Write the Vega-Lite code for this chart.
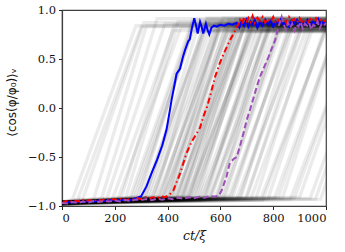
{
  "$schema": "https://vega.github.io/schema/vega-lite/v6.json",
  "width": 264,
  "height": 196,
  "autosize": "none",
  "padding": {"left": 62, "top": 10, "right": 19, "bottom": 46},
  "background": "white",
  "config": {
    "font": "DejaVu Serif",
    "view": {"stroke": "#404040", "strokeWidth": 1.2},
    "axis": {
      "grid": false,
      "domainColor": "#404040",
      "domainWidth": 1.2,
      "tickColor": "#222",
      "tickSize": 3.5,
      "tickWidth": 1,
      "labelFont": "DejaVu Serif",
      "labelFontSize": 11.5,
      "labelColor": "#111",
      "titleFont": "DejaVu Serif",
      "titleFontSize": 12.5,
      "titleFontWeight": "normal",
      "titleColor": "#111"
    }
  },
  "datasets": {
    "gray": [
      {"id":0,"t":0,"v":-0.96},{"id":0,"t":40,"v":-0.93},{"id":0,"t":280,"v":0.84},{"id":0,"t":1000,"v":0.84},
      {"id":1,"t":0,"v":-0.97},{"id":1,"t":80,"v":-0.92},{"id":1,"t":310,"v":0.87},{"id":1,"t":1000,"v":0.87},
      {"id":2,"t":0,"v":-0.96},{"id":2,"t":120,"v":-0.93},{"id":2,"t":320,"v":0.84},{"id":2,"t":1000,"v":0.84},
      {"id":3,"t":0,"v":-0.97},{"id":3,"t":170,"v":-0.92},{"id":3,"t":390,"v":0.86},{"id":3,"t":1000,"v":0.86},
      {"id":4,"t":0,"v":-0.96},{"id":4,"t":210,"v":-0.94},{"id":4,"t":450,"v":0.82},{"id":4,"t":1000,"v":0.82},
      {"id":5,"t":0,"v":-0.97},{"id":5,"t":240,"v":-0.93},{"id":5,"t":440,"v":0.88},{"id":5,"t":1000,"v":0.88},
      {"id":6,"t":0,"v":-0.98},{"id":6,"t":265,"v":-0.92},{"id":6,"t":495,"v":0.85},{"id":6,"t":1000,"v":0.85},
      {"id":7,"t":0,"v":-0.96},{"id":7,"t":285,"v":-0.91},{"id":7,"t":495,"v":0.80},{"id":7,"t":1000,"v":0.80},
      {"id":8,"t":0,"v":-0.97},{"id":8,"t":300,"v":-0.93},{"id":8,"t":550,"v":0.87},{"id":8,"t":1000,"v":0.87},
      {"id":9,"t":0,"v":-0.97},{"id":9,"t":315,"v":-0.92},{"id":9,"t":515,"v":0.83},{"id":9,"t":1000,"v":0.83},
      {"id":10,"t":0,"v":-0.96},{"id":10,"t":330,"v":-0.93},{"id":10,"t":560,"v":0.89},{"id":10,"t":1000,"v":0.89},
      {"id":11,"t":0,"v":-0.98},{"id":11,"t":345,"v":-0.91},{"id":11,"t":565,"v":0.84},{"id":11,"t":1000,"v":0.84},
      {"id":12,"t":0,"v":-0.97},{"id":12,"t":360,"v":-0.92},{"id":12,"t":600,"v":0.81},{"id":12,"t":1000,"v":0.81},
      {"id":13,"t":0,"v":-0.96},{"id":13,"t":370,"v":-0.94},{"id":13,"t":580,"v":0.86},{"id":13,"t":1000,"v":0.86},
      {"id":14,"t":0,"v":-0.97},{"id":14,"t":382,"v":-0.92},{"id":14,"t":632,"v":0.90},{"id":14,"t":1000,"v":0.90},
      {"id":15,"t":0,"v":-0.98},{"id":15,"t":395,"v":-0.93},{"id":15,"t":595,"v":0.83},{"id":15,"t":1000,"v":0.83},
      {"id":16,"t":0,"v":-0.96},{"id":16,"t":405,"v":-0.91},{"id":16,"t":635,"v":0.85},{"id":16,"t":1000,"v":0.85},
      {"id":17,"t":0,"v":-0.97},{"id":17,"t":415,"v":-0.92},{"id":17,"t":635,"v":0.87},{"id":17,"t":1000,"v":0.87},
      {"id":18,"t":0,"v":-0.97},{"id":18,"t":425,"v":-0.93},{"id":18,"t":685,"v":0.80},{"id":18,"t":1000,"v":0.80},
      {"id":19,"t":0,"v":-0.96},{"id":19,"t":435,"v":-0.92},{"id":19,"t":645,"v":0.84},{"id":19,"t":1000,"v":0.84},
      {"id":20,"t":0,"v":-0.98},{"id":20,"t":445,"v":-0.94},{"id":20,"t":685,"v":0.88},{"id":20,"t":1000,"v":0.88},
      {"id":21,"t":0,"v":-0.97},{"id":21,"t":455,"v":-0.91},{"id":21,"t":655,"v":0.82},{"id":21,"t":1000,"v":0.82},
      {"id":22,"t":0,"v":-0.96},{"id":22,"t":465,"v":-0.92},{"id":22,"t":695,"v":0.86},{"id":22,"t":1000,"v":0.86},
      {"id":23,"t":0,"v":-0.97},{"id":23,"t":475,"v":-0.93},{"id":23,"t":725,"v":0.84},{"id":23,"t":1000,"v":0.84},
      {"id":24,"t":0,"v":-0.97},{"id":24,"t":485,"v":-0.92},{"id":24,"t":695,"v":0.89},{"id":24,"t":1000,"v":0.89},
      {"id":25,"t":0,"v":-0.96},{"id":25,"t":495,"v":-0.91},{"id":25,"t":735,"v":0.81},{"id":25,"t":1000,"v":0.81},
      {"id":26,"t":0,"v":-0.98},{"id":26,"t":505,"v":-0.93},{"id":26,"t":725,"v":0.85},{"id":26,"t":1000,"v":0.85},
      {"id":27,"t":0,"v":-0.97},{"id":27,"t":515,"v":-0.92},{"id":27,"t":715,"v":0.87},{"id":27,"t":1000,"v":0.87},
      {"id":28,"t":0,"v":-0.96},{"id":28,"t":525,"v":-0.94},{"id":28,"t":785,"v":0.83},{"id":28,"t":1000,"v":0.83},
      {"id":29,"t":0,"v":-0.97},{"id":29,"t":535,"v":-0.92},{"id":29,"t":765,"v":0.86},{"id":29,"t":1000,"v":0.86},
      {"id":30,"t":0,"v":-0.97},{"id":30,"t":545,"v":-0.91},{"id":30,"t":755,"v":0.80},{"id":30,"t":1000,"v":0.80},
      {"id":31,"t":0,"v":-0.98},{"id":31,"t":555,"v":-0.93},{"id":31,"t":795,"v":0.88},{"id":31,"t":1000,"v":0.88},
      {"id":32,"t":0,"v":-0.96},{"id":32,"t":565,"v":-0.92},{"id":32,"t":785,"v":0.84},{"id":32,"t":1000,"v":0.84},
      {"id":33,"t":0,"v":-0.97},{"id":33,"t":578,"v":-0.93},{"id":33,"t":828,"v":0.86},{"id":33,"t":1000,"v":0.86},
      {"id":34,"t":0,"v":-0.97},{"id":34,"t":590,"v":-0.92},{"id":34,"t":790,"v":0.82},{"id":34,"t":1000,"v":0.82},
      {"id":35,"t":0,"v":-0.96},{"id":35,"t":602,"v":-0.91},{"id":35,"t":832,"v":0.87},{"id":35,"t":1000,"v":0.87},
      {"id":36,"t":0,"v":-0.98},{"id":36,"t":615,"v":-0.93},{"id":36,"t":825,"v":0.85},{"id":36,"t":1000,"v":0.85},
      {"id":37,"t":0,"v":-0.97},{"id":37,"t":630,"v":-0.92},{"id":37,"t":870,"v":0.83},{"id":37,"t":1000,"v":0.83},
      {"id":38,"t":0,"v":-0.96},{"id":38,"t":645,"v":-0.92},{"id":38,"t":865,"v":0.89},{"id":38,"t":1000,"v":0.89},
      {"id":39,"t":0,"v":-0.97},{"id":39,"t":660,"v":-0.93},{"id":39,"t":910,"v":0.84},{"id":39,"t":1000,"v":0.84},
      {"id":40,"t":0,"v":-0.97},{"id":40,"t":678,"v":-0.91},{"id":40,"t":878,"v":0.86},{"id":40,"t":1000,"v":0.86},
      {"id":41,"t":0,"v":-0.96},{"id":41,"t":695,"v":-0.92},{"id":41,"t":925,"v":0.81},{"id":41,"t":1000,"v":0.81},
      {"id":42,"t":0,"v":-0.98},{"id":42,"t":715,"v":-0.93},{"id":42,"t":955,"v":0.85},{"id":42,"t":1000,"v":0.85},
      {"id":43,"t":0,"v":-0.97},{"id":43,"t":735,"v":-0.92},{"id":43,"t":945,"v":0.87},{"id":43,"t":1000,"v":0.87},
      {"id":44,"t":0,"v":-0.96},{"id":44,"t":755,"v":-0.91},{"id":44,"t":1005,"v":0.83},
      {"id":45,"t":0,"v":-0.97},{"id":45,"t":780,"v":-0.93},{"id":45,"t":1000,"v":0.86},
      {"id":46,"t":0,"v":-0.97},{"id":46,"t":805,"v":-0.92},{"id":46,"t":1045,"v":0.84},
      {"id":47,"t":0,"v":-0.96},{"id":47,"t":835,"v":-0.92},{"id":47,"t":1045,"v":0.85},
      {"id":48,"t":0,"v":-0.98},{"id":48,"t":865,"v":-0.93},{"id":48,"t":1115,"v":0.82},
      {"id":49,"t":0,"v":-0.97},{"id":49,"t":900,"v":-0.91},{"id":49,"t":1130,"v":0.86},
      {"id":50,"t":0,"v":-0.96},{"id":50,"t":940,"v":-0.92},{"id":50,"t":1180,"v":0.84},
      {"id":51,"t":0,"v":-0.97},{"id":51,"t":980,"v":-0.93},{"id":51,"t":1200,"v":0.85},
      {"id":52,"t":0,"v":-0.97},{"id":52,"t":60,"v":-0.93},{"id":52,"t":300,"v":0.83},{"id":52,"t":1000,"v":0.83},
      {"id":53,"t":0,"v":-0.96},{"id":53,"t":150,"v":-0.92},{"id":53,"t":360,"v":0.91},{"id":53,"t":1000,"v":0.91},
      {"id":54,"t":0,"v":-0.98},{"id":54,"t":190,"v":-0.94},{"id":54,"t":420,"v":0.79},{"id":54,"t":1000,"v":0.79},
      {"id":55,"t":0,"v":-0.97},{"id":55,"t":225,"v":-0.91},{"id":55,"t":425,"v":0.85},{"id":55,"t":1000,"v":0.85},
      {"id":56,"t":0,"v":-0.96},{"id":56,"t":255,"v":-0.93},{"id":56,"t":495,"v":0.90},{"id":56,"t":1000,"v":0.90},
      {"id":57,"t":0,"v":-0.97},{"id":57,"t":275,"v":-0.92},{"id":57,"t":495,"v":0.78},{"id":57,"t":1000,"v":0.78},
      {"id":58,"t":0,"v":-0.98},{"id":58,"t":295,"v":-0.90},{"id":58,"t":495,"v":0.86},{"id":58,"t":1000,"v":0.86},
      {"id":59,"t":0,"v":-0.96},{"id":59,"t":308,"v":-0.94},{"id":59,"t":548,"v":0.92},{"id":59,"t":1000,"v":0.92},
      {"id":60,"t":0,"v":-0.97},{"id":60,"t":322,"v":-0.92},{"id":60,"t":532,"v":0.79},{"id":60,"t":1000,"v":0.79},
      {"id":61,"t":0,"v":-0.97},{"id":61,"t":338,"v":-0.93},{"id":61,"t":588,"v":0.85},{"id":61,"t":1000,"v":0.85},
      {"id":62,"t":0,"v":-0.96},{"id":62,"t":352,"v":-0.91},{"id":62,"t":552,"v":0.91},{"id":62,"t":1000,"v":0.91},
      {"id":63,"t":0,"v":-0.98},{"id":63,"t":365,"v":-0.92},{"id":63,"t":595,"v":0.82},{"id":63,"t":1000,"v":0.82},
      {"id":64,"t":0,"v":-0.97},{"id":64,"t":377,"v":-0.94},{"id":64,"t":597,"v":0.88},{"id":64,"t":1000,"v":0.88},
      {"id":65,"t":0,"v":-0.96},{"id":65,"t":388,"v":-0.90},{"id":65,"t":628,"v":0.78},{"id":65,"t":1000,"v":0.78},
      {"id":66,"t":0,"v":-0.97},{"id":66,"t":400,"v":-0.93},{"id":66,"t":610,"v":0.92},{"id":66,"t":1000,"v":0.92},
      {"id":67,"t":0,"v":-0.98},{"id":67,"t":410,"v":-0.92},{"id":67,"t":660,"v":0.84},{"id":67,"t":1000,"v":0.84},
      {"id":68,"t":0,"v":-0.96},{"id":68,"t":420,"v":-0.91},{"id":68,"t":620,"v":0.86},{"id":68,"t":1000,"v":0.86},
      {"id":69,"t":0,"v":-0.97},{"id":69,"t":430,"v":-0.93},{"id":69,"t":660,"v":0.79},{"id":69,"t":1000,"v":0.79},
      {"id":70,"t":0,"v":-0.97},{"id":70,"t":440,"v":-0.92},{"id":70,"t":660,"v":0.91},{"id":70,"t":1000,"v":0.91},
      {"id":71,"t":0,"v":-0.96},{"id":71,"t":450,"v":-0.94},{"id":71,"t":690,"v":0.83},{"id":71,"t":1000,"v":0.83},
      {"id":72,"t":0,"v":-0.98},{"id":72,"t":460,"v":-0.91},{"id":72,"t":670,"v":0.88},{"id":72,"t":1000,"v":0.88},
      {"id":73,"t":0,"v":-0.97},{"id":73,"t":470,"v":-0.93},{"id":73,"t":720,"v":0.78},{"id":73,"t":1000,"v":0.78},
      {"id":74,"t":0,"v":-0.96},{"id":74,"t":480,"v":-0.92},{"id":74,"t":680,"v":0.90},{"id":74,"t":1000,"v":0.90},
      {"id":75,"t":0,"v":-0.97},{"id":75,"t":490,"v":-0.90},{"id":75,"t":720,"v":0.85},{"id":75,"t":1000,"v":0.85},
      {"id":76,"t":0,"v":-0.98},{"id":76,"t":500,"v":-0.93},{"id":76,"t":720,"v":0.92},{"id":76,"t":1000,"v":0.92},
      {"id":77,"t":0,"v":-0.96},{"id":77,"t":520,"v":-0.92},{"id":77,"t":760,"v":0.79},{"id":77,"t":1000,"v":0.79},
      {"id":78,"t":0,"v":-0.97},{"id":78,"t":540,"v":-0.94},{"id":78,"t":750,"v":0.87},{"id":78,"t":1000,"v":0.87},
      {"id":79,"t":0,"v":-0.97},{"id":79,"t":560,"v":-0.91},{"id":79,"t":810,"v":0.82},{"id":79,"t":1000,"v":0.82},
      {"id":80,"t":0,"v":-0.96},{"id":80,"t":585,"v":-0.93},{"id":80,"t":785,"v":0.90},{"id":80,"t":1000,"v":0.90},
      {"id":81,"t":0,"v":-0.98},{"id":81,"t":610,"v":-0.92},{"id":81,"t":840,"v":0.86},{"id":81,"t":1000,"v":0.86},
      {"id":82,"t":0,"v":-0.97},{"id":82,"t":640,"v":-0.90},{"id":82,"t":860,"v":0.79},{"id":82,"t":1000,"v":0.79},
      {"id":83,"t":0,"v":-0.96},{"id":83,"t":670,"v":-0.93},{"id":83,"t":910,"v":0.91},{"id":83,"t":1000,"v":0.91},
      {"id":84,"t":0,"v":-0.97},{"id":84,"t":700,"v":-0.92},{"id":84,"t":910,"v":0.84},{"id":84,"t":1000,"v":0.84},
      {"id":85,"t":0,"v":-0.98},{"id":85,"t":760,"v":-0.94},{"id":85,"t":1010,"v":0.88},
      {"id":86,"t":0,"v":-0.97},{"id":86,"t":820,"v":-0.91},{"id":86,"t":1040,"v":0.83},
      {"id":87,"t":0,"v":-0.96},{"id":87,"t":880,"v":-0.92},{"id":87,"t":1120,"v":0.87},
      {"id":88,"t":0,"v":-0.97},{"id":88,"t":960,"v":-0.93},{"id":88,"t":1190,"v":0.85}
    ],
    "lines": [
      {"s":"b","t":0,"v":-0.97},{"s":"b","t":20,"v":-0.96},{"s":"b","t":40,"v":-0.965},{"s":"b","t":60,"v":-0.955},{"s":"b","t":80,"v":-0.96},{"s":"b","t":100,"v":-0.95},{"s":"b","t":120,"v":-0.955},{"s":"b","t":140,"v":-0.945},{"s":"b","t":160,"v":-0.95},{"s":"b","t":180,"v":-0.94},{"s":"b","t":200,"v":-0.945},{"s":"b","t":220,"v":-0.94},{"s":"b","t":240,"v":-0.935},{"s":"b","t":260,"v":-0.94},{"s":"b","t":280,"v":-0.92},{"s":"b","t":300,"v":-0.9},{"s":"b","t":320,"v":-0.8},{"s":"b","t":340,"v":-0.66},{"s":"b","t":360,"v":-0.53},{"s":"b","t":380,"v":-0.38},{"s":"b","t":396,"v":-0.22},{"s":"b","t":405,"v":-0.08},{"s":"b","t":415,"v":0.08},{"s":"b","t":425,"v":0.22},{"s":"b","t":434,"v":0.35},{"s":"b","t":447,"v":0.4},{"s":"b","t":458,"v":0.52},{"s":"b","t":466,"v":0.59},{"s":"b","t":478,"v":0.68},{"s":"b","t":484,"v":0.7},{"s":"b","t":491,"v":0.8},{"s":"b","t":501,"v":0.915},{"s":"b","t":508,"v":0.84},{"s":"b","t":514,"v":0.76},{"s":"b","t":523,"v":0.88},{"s":"b","t":529,"v":0.83},{"s":"b","t":535,"v":0.76},{"s":"b","t":545,"v":0.86},{"s":"b","t":551,"v":0.8},{"s":"b","t":558,"v":0.75},{"s":"b","t":566,"v":0.82},{"s":"b","t":576,"v":0.84},{"s":"b","t":586,"v":0.83},{"s":"b","t":600,"v":0.85},{"s":"b","t":615,"v":0.84},{"s":"b","t":630,"v":0.86},{"s":"b","t":645,"v":0.85},{"s":"b","t":662,"v":0.87},{"s":"b","t":672,"v":0.82},{"s":"b","t":680,"v":0.88},{"s":"b","t":690,"v":0.84},{"s":"b","t":698,"v":0.9},{"s":"b","t":706,"v":0.83},{"s":"b","t":714,"v":0.88},{"s":"b","t":722,"v":0.85},{"s":"b","t":730,"v":0.9},{"s":"b","t":740,"v":0.82},{"s":"b","t":750,"v":0.88},{"s":"b","t":760,"v":0.84},{"s":"b","t":770,"v":0.9},{"s":"b","t":780,"v":0.85},{"s":"b","t":790,"v":0.89},{"s":"b","t":800,"v":0.83},{"s":"b","t":810,"v":0.88},{"s":"b","t":820,"v":0.86},{"s":"b","t":830,"v":0.91},{"s":"b","t":840,"v":0.84},{"s":"b","t":850,"v":0.88},{"s":"b","t":860,"v":0.83},{"s":"b","t":870,"v":0.89},{"s":"b","t":880,"v":0.86},{"s":"b","t":890,"v":0.9},{"s":"b","t":900,"v":0.84},{"s":"b","t":910,"v":0.88},{"s":"b","t":920,"v":0.85},{"s":"b","t":930,"v":0.9},{"s":"b","t":940,"v":0.84},{"s":"b","t":950,"v":0.88},{"s":"b","t":960,"v":0.86},{"s":"b","t":970,"v":0.91},{"s":"b","t":980,"v":0.85},{"s":"b","t":990,"v":0.88},{"s":"b","t":1000,"v":0.86},
      {"s":"r","t":0,"v":-0.97},{"s":"r","t":15,"v":-0.95},{"s":"r","t":30,"v":-0.96},{"s":"r","t":45,"v":-0.94},{"s":"r","t":60,"v":-0.955},{"s":"r","t":75,"v":-0.93},{"s":"r","t":90,"v":-0.95},{"s":"r","t":105,"v":-0.94},{"s":"r","t":120,"v":-0.955},{"s":"r","t":135,"v":-0.93},{"s":"r","t":150,"v":-0.945},{"s":"r","t":165,"v":-0.925},{"s":"r","t":180,"v":-0.94},{"s":"r","t":195,"v":-0.93},{"s":"r","t":210,"v":-0.945},{"s":"r","t":225,"v":-0.92},{"s":"r","t":240,"v":-0.94},{"s":"r","t":255,"v":-0.93},{"s":"r","t":270,"v":-0.935},{"s":"r","t":285,"v":-0.92},{"s":"r","t":300,"v":-0.93},{"s":"r","t":315,"v":-0.91},{"s":"r","t":330,"v":-0.925},{"s":"r","t":345,"v":-0.91},{"s":"r","t":360,"v":-0.92},{"s":"r","t":375,"v":-0.9},{"s":"r","t":390,"v":-0.91},{"s":"r","t":405,"v":-0.89},{"s":"r","t":415,"v":-0.86},{"s":"r","t":422,"v":-0.84},{"s":"r","t":447,"v":-0.67},{"s":"r","t":472,"v":-0.46},{"s":"r","t":490,"v":-0.35},{"s":"r","t":510,"v":-0.26},{"s":"r","t":523,"v":-0.2},{"s":"r","t":535,"v":-0.09},{"s":"r","t":548,"v":0.0},{"s":"r","t":561,"v":0.12},{"s":"r","t":580,"v":0.32},{"s":"r","t":598,"v":0.46},{"s":"r","t":617,"v":0.58},{"s":"r","t":636,"v":0.69},{"s":"r","t":650,"v":0.76},{"s":"r","t":664,"v":0.83},{"s":"r","t":674,"v":0.9},{"s":"r","t":682,"v":0.86},{"s":"r","t":690,"v":0.93},{"s":"r","t":698,"v":0.87},{"s":"r","t":706,"v":0.92},{"s":"r","t":714,"v":0.88},{"s":"r","t":722,"v":0.94},{"s":"r","t":730,"v":0.87},{"s":"r","t":740,"v":0.92},{"s":"r","t":750,"v":0.89},{"s":"r","t":760,"v":0.93},{"s":"r","t":770,"v":0.87},{"s":"r","t":780,"v":0.91},{"s":"r","t":790,"v":0.88},{"s":"r","t":800,"v":0.93},{"s":"r","t":810,"v":0.86},{"s":"r","t":820,"v":0.9},{"s":"r","t":830,"v":0.88},{"s":"r","t":840,"v":0.92},{"s":"r","t":850,"v":0.87},{"s":"r","t":860,"v":0.93},{"s":"r","t":870,"v":0.89},{"s":"r","t":880,"v":0.91},{"s":"r","t":890,"v":0.87},{"s":"r","t":900,"v":0.92},{"s":"r","t":910,"v":0.88},{"s":"r","t":920,"v":0.9},{"s":"r","t":930,"v":0.86},{"s":"r","t":940,"v":0.91},{"s":"r","t":950,"v":0.89},{"s":"r","t":960,"v":0.93},{"s":"r","t":970,"v":0.87},{"s":"r","t":980,"v":0.9},{"s":"r","t":990,"v":0.88},{"s":"r","t":1000,"v":0.9},
      {"s":"p","t":0,"v":-0.97},{"s":"p","t":20,"v":-0.975},{"s":"p","t":40,"v":-0.96},{"s":"p","t":60,"v":-0.97},{"s":"p","t":80,"v":-0.955},{"s":"p","t":100,"v":-0.965},{"s":"p","t":120,"v":-0.95},{"s":"p","t":140,"v":-0.96},{"s":"p","t":160,"v":-0.95},{"s":"p","t":180,"v":-0.955},{"s":"p","t":200,"v":-0.945},{"s":"p","t":220,"v":-0.955},{"s":"p","t":240,"v":-0.94},{"s":"p","t":260,"v":-0.95},{"s":"p","t":280,"v":-0.935},{"s":"p","t":300,"v":-0.94},{"s":"p","t":320,"v":-0.93},{"s":"p","t":340,"v":-0.94},{"s":"p","t":360,"v":-0.925},{"s":"p","t":380,"v":-0.935},{"s":"p","t":400,"v":-0.92},{"s":"p","t":420,"v":-0.93},{"s":"p","t":440,"v":-0.915},{"s":"p","t":460,"v":-0.925},{"s":"p","t":480,"v":-0.91},{"s":"p","t":500,"v":-0.92},{"s":"p","t":520,"v":-0.905},{"s":"p","t":540,"v":-0.915},{"s":"p","t":560,"v":-0.9},{"s":"p","t":580,"v":-0.905},{"s":"p","t":595,"v":-0.89},{"s":"p","t":605,"v":-0.84},{"s":"p","t":623,"v":-0.7},{"s":"p","t":636,"v":-0.56},{"s":"p","t":650,"v":-0.52},{"s":"p","t":662,"v":-0.5},{"s":"p","t":675,"v":-0.38},{"s":"p","t":687,"v":-0.26},{"s":"p","t":700,"v":-0.12},{"s":"p","t":712,"v":-0.02},{"s":"p","t":725,"v":0.1},{"s":"p","t":738,"v":0.22},{"s":"p","t":750,"v":0.32},{"s":"p","t":766,"v":0.42},{"s":"p","t":782,"v":0.52},{"s":"p","t":795,"v":0.61},{"s":"p","t":807,"v":0.69},{"s":"p","t":820,"v":0.83},{"s":"p","t":832,"v":0.93},{"s":"p","t":840,"v":0.85},{"s":"p","t":848,"v":0.8},{"s":"p","t":856,"v":0.87},{"s":"p","t":864,"v":0.82},{"s":"p","t":872,"v":0.86},{"s":"p","t":880,"v":0.79},{"s":"p","t":888,"v":0.85},{"s":"p","t":896,"v":0.83},{"s":"p","t":904,"v":0.88},{"s":"p","t":912,"v":0.81},{"s":"p","t":920,"v":0.86},{"s":"p","t":928,"v":0.84},{"s":"p","t":936,"v":0.87},{"s":"p","t":944,"v":0.8},{"s":"p","t":952,"v":0.85},{"s":"p","t":960,"v":0.83},{"s":"p","t":968,"v":0.88},{"s":"p","t":976,"v":0.81},{"s":"p","t":984,"v":0.86},{"s":"p","t":992,"v":0.84},{"s":"p","t":1000,"v":0.87}
    ]
  },
  "encoding": {
    "x": {"field": "t", "type": "quantitative", "scale": {"domain": [0, 1000], "nice": false},
          "axis": {"values": [0, 200, 400, 600, 800, 1000], "format": "d", "title": "ct/ξ", "titleFontStyle": "italic", "titlePadding": 5, "labelPadding": 3}},
    "y": {"field": "v", "type": "quantitative", "scale": {"domain": [-1, 1], "nice": false},
          "axis": {"values": [-1, -0.5, 0, 0.5, 1], "format": ".1f", "title": "⟨cos(φ/φ₀)⟩ᵥ", "titleFont": "DejaVu Sans", "titleFontSize": 12, "titleX": -51, "titleY": 92, "titleAlign": "center", "titleBaseline": "middle", "titleAngle": 270, "labelPadding": 3}}
  },
  "layer": [
    {"data": {"name": "gray"}, "mark": {"type": "line", "clip": true, "color": "black", "opacity": 0.08, "strokeWidth": 3.4},
     "encoding": {"detail": {"field": "id", "type": "nominal"}}},
    {"data": {"values": [{"y": -0.9}]}, "mark": {"type": "rule", "color": "black", "strokeWidth": 2, "strokeDash": [1.8, 2.6]},
     "encoding": {"y": {"field": "y", "type": "quantitative"}, "x": {"datum": 0}, "x2": {"datum": 1000}}},
    {"data": {"name": "lines"}, "transform": [{"filter": "datum.s == 'b'"}], "mark": {"type": "line", "clip": true, "color": "#0000ff", "strokeWidth": 2}},
    {"data": {"name": "lines"}, "transform": [{"filter": "datum.s == 'r'"}], "mark": {"type": "line", "clip": true, "color": "#ff0000", "strokeWidth": 2, "strokeDash": [6, 3, 1.5, 3]}},
    {"data": {"name": "lines"}, "transform": [{"filter": "datum.s == 'p'"}], "mark": {"type": "line", "clip": true, "color": "#9c4fb8", "strokeWidth": 2, "strokeDash": [6, 3]}}
  ]
}
